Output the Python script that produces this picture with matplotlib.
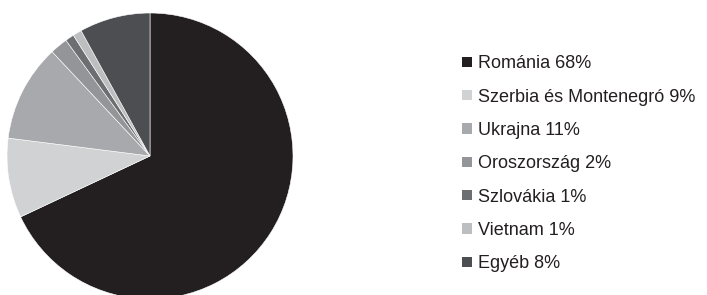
import matplotlib.pyplot as plt
from matplotlib.patches import Patch

plt.rcParams['font.family'] = ['Liberation Sans', 'DejaVu Sans']

# Adatok
countries = ['Románia', 'Szerbia és Montenegró', 'Ukrajna', 'Oroszország',
             'Szlovákia', 'Vietnam', 'Egyéb']
shares = [68, 9, 11, 2, 1, 1, 8]
colors = ['#231f20', '#d1d2d4', '#a7a9ac', '#939598', '#6d6e71', '#bcbec0', '#4d4e51']

fig = plt.figure(figsize=(7.07, 2.95), dpi=100)
ax = fig.add_axes([7 / 707, -4 / 295, 286 / 707, 286 / 295])
ax.pie(shares, colors=colors, startangle=90, counterclock=False,
       wedgeprops=dict(edgecolor='white', linewidth=0.4))
ax.set_xlim(-1, 1)
ax.set_ylim(-1, 1)

handles = [Patch(facecolor=c, edgecolor='none') for c in colors]
labels = [f'{n} {v}%' for n, v in zip(countries, shares)]
fig.legend(handles, labels, loc='upper left', bbox_to_anchor=(446 / 707, 1 - 39 / 295),
           frameon=False, fontsize=13, handlelength=0.52, handleheight=0.52,
           handletextpad=0.35, labelspacing=0.905, labelcolor='#231f20')

fig.savefig('out.png', dpi=100)
